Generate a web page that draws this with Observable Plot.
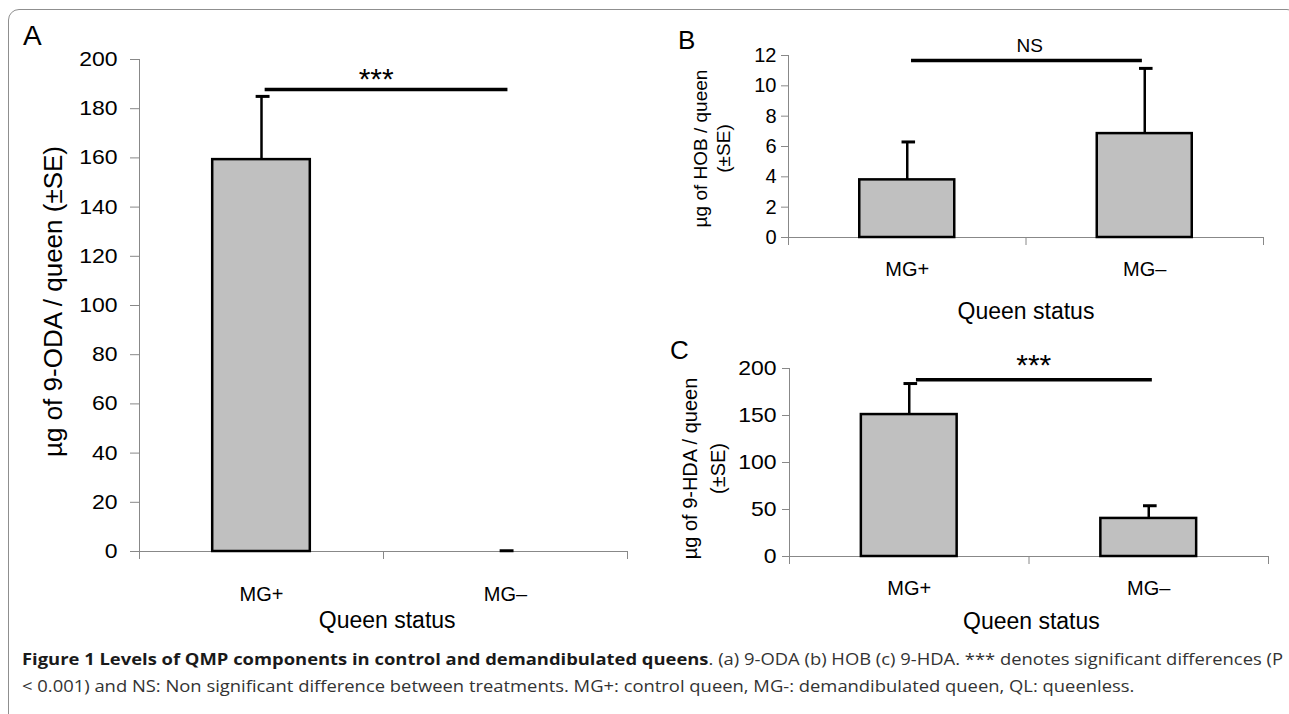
<!DOCTYPE html>
<html>
<head>
<meta charset="utf-8">
<script src="https://cdn.jsdelivr.net/npm/d3@7"></script>
<script src="https://cdn.jsdelivr.net/npm/@observablehq/plot@0.6"></script>
<style>
  html, body { margin: 0; padding: 0; background: #fff; }
  body { width: 1289px; height: 714px; position: relative; overflow: hidden; font-family: "Liberation Sans", Arimo, Arial, sans-serif; }
  #frame { position: absolute; left: 8px; top: 9px; width: 1290px; height: 730px; border: 1px solid #8f8f8f; border-radius: 11px; box-sizing: border-box; }
  .panel { position: absolute; }
  .letter { position: absolute; font-family: "Liberation Sans", Arial, sans-serif; color: #000; line-height: 1; }
  .cap { position: absolute; left: 22px; white-space: nowrap; font-family: "Open Sans", "Noto Sans", sans-serif; font-size: 15.5px; color: #333; transform-origin: 0 50%; line-height: 27px; }
  .cap b { color: #1a1a1a; font-weight: 700; }
  #pA g[aria-label="y-axis tick label"] { font-size: 20px !important; }
  #pB g[aria-label="y-axis tick label"] { font-size: 20px !important; }
  #pC g[aria-label="y-axis tick label"] { font-size: 20px !important; }
</style>
</head>
<body>
<div id="frame"></div>
<div id="pA" class="panel" style="left:0px;top:0px"></div>
<div id="pB" class="panel" style="left:640px;top:0px"></div>
<div id="pC" class="panel" style="left:640px;top:335px"></div>
<div class="letter" style="left:23px;top:22px;font-size:28px">A</div>
<div class="letter" style="left:678px;top:27px;font-size:26px">B</div>
<div class="letter" style="left:670px;top:337px;font-size:26px">C</div>
<div id="cap1" class="cap" style="top:646px"><b>Figure 1 Levels of QMP components in control and demandibulated queens</b>. (a) 9-ODA (b) HOB (c) 9-HDA. *** denotes significant differences (P</div>
<div id="cap2" class="cap" style="top:673px">&lt; 0.001) and NS: Non significant difference between treatments. MG+: control queen, MG-: demandibulated queen, QL: queenless.</div>
<script>
// ---- data ----
const categories = ["MG+", "MG–"];
const odaMean = [159.3, 0];
const odaSE = [25.7, 0.3];
const hobMean = [3.8, 6.85];
const hobSE = [2.5, 4.3];
const hdaMean = [151, 40.5];
const hdaSE = [33, 13.5];
const odaTicks = [0, 20, 40, 60, 80, 100, 120, 140, 160, 180, 200];
const hobTicks = [0, 2, 4, 6, 8, 10, 12];
const hdaTicks = [0, 50, 100, 150, 200];
const sigA = {y: 187.8, x1: 0.515, x2: 1.51, tx: 0.97, label: "***"};
const sigB = {y: 11.67, x1: 0.518, x2: 1.49, tx: 1.016, label: "NS"};
const sigC = {y: 188, x1: 0.53, x2: 1.515, tx: 1.02, label: "***"};
const xAxisTitle = "Queen status";
const yLabelA = "µg of 9-ODA / queen (±SE)";
const yLabelB = "µg of HOB / queen\n(±SE)";
const yLabelC = "µg of 9-HDA / queen\n(±SE)";

function rows(means, ses) {
  return categories.map((c, i) => ({c, i, mean: means[i], se: ses[i]}));
}

// widen horizontal texts (the reference raster is stretched sideways)
function stretch(svg, label, sx) {
  svg.querySelectorAll(`g[aria-label="${label}"] text`).forEach(t => {
    const tr = t.getAttribute("transform") || "";
    const x = +t.getAttribute("x") || 0, y = +t.getAttribute("y") || 0;
    t.setAttribute("transform", `${tr} translate(${x},${y}) scale(${sx},1) translate(${-x},${-y})`);
  });
}

function panel(o) {
  const data = rows(o.means, o.ses);
  const svg = Plot.plot({
    width: o.width, height: o.height,
    marginLeft: o.ml, marginRight: o.mr, marginTop: o.mt, marginBottom: o.mb,
    style: {background: "transparent", fontFamily: "'Liberation Sans', Arimo, Arial, sans-serif", color: "black", overflow: "visible"},
    x: {domain: [0, 2]},
    y: {domain: [0, o.ymax]},
    marks: [
      Plot.ruleX([0], {stroke: "#888", strokeWidth: 1}),
      Plot.ruleY([0], {stroke: "#888", strokeWidth: 1}),
      Plot.axisY({ticks: o.ticks, tickSize: o.tickSize, tickPadding: o.tickPadding, fontSize: o.tickFont, stroke: "#888", fill: "black", label: null}),
      Plot.axisX({ticks: [0, 1, 2], tickSize: 8, tickFormat: () => "", stroke: "#888", label: null}),
      Plot.rectY(data.filter(d => d.mean > 0), {x1: d => d.i + 0.3, x2: d => d.i + 0.7, y1: 0, y2: "mean", fill: "#c0c0c0", stroke: "black", strokeWidth: 2.5}),
      Plot.ruleX(data.filter(d => d.mean > 0), {x: d => d.i + 0.5, y1: "mean", y2: d => d.mean + d.se, stroke: "black", strokeWidth: 2.5}),
      Plot.ruleY(data, {y: d => d.mean + d.se, x1: d => d.i + 0.478, x2: d => d.i + 0.535, stroke: "black", strokeWidth: 3}),
      Plot.ruleY([o.sig], {y: "y", x1: "x1", x2: "x2", stroke: "black", strokeWidth: 3.4}),
      Plot.text([o.sig], {x: "tx", y: "y", text: "label", dy: o.sigDy, fontSize: o.sigFont, ariaLabel: "sig-label"}),
      Plot.text(data, {x: d => d.i + 0.5, y: 0, text: "c", dy: o.catDy, fontSize: o.catFont, ariaLabel: "cat-label"}),
      Plot.text([xAxisTitle], {x: o.titleX, y: 0, text: d => d, dy: o.titleDy, fontSize: o.titleFont, ariaLabel: "x-title"}),
      Plot.text([o.ylabel], {frameAnchor: "left", textAnchor: "middle", rotate: -90, text: d => d, dx: o.ylDx, dy: o.ylDy, fontSize: o.ylFont, lineHeight: o.ylLine, ariaLabel: "y-title"})
    ]
  });
  stretch(svg, "y-axis tick label", o.sxTick);
  stretch(svg, "sig-label", o.sxSig);
  stretch(svg, "cat-label", o.sxCat);
  stretch(svg, "x-title", o.sxTitle);
  return svg;
}

document.getElementById("pA").append(panel({
  width: 660, height: 640, ml: 139, mr: 33, mt: 59, mb: 89, ymax: 200,
  means: odaMean, ses: odaSE, ticks: odaTicks, tickSize: 9, tickPadding: 13, tickFont: 20, sxTick: 1.15,
  sig: sigA, sigDy: -10, sigFont: 30, sxSig: 1.2,
  catDy: 43, catFont: 20, sxCat: 1.25, titleX: 1.015, titleDy: 69, titleFont: 23, sxTitle: 1.2,
  ylabel: yLabelA, ylDx: -86, ylDy: -4, ylFont: 26, ylLine: 1
}));
document.getElementById("pB").append(panel({
  width: 649, height: 335, ml: 148, mr: 26, mt: 55, mb: 98, ymax: 12,
  means: hobMean, ses: hobSE, ticks: hobTicks, tickSize: 7, tickPadding: 5, tickFont: 20, sxTick: 1.0,
  sig: sigB, sigDy: -15, sigFont: 19, sxSig: 1.0,
  catDy: 32, catFont: 20, sxCat: 1.15, titleX: 1.0, titleDy: 74, titleFont: 23, sxTitle: 1.2,
  ylabel: yLabelB, ylDx: -77, ylDy: 2, ylFont: 19, ylLine: 1.2
}));
document.getElementById("pC").append(panel({
  width: 649, height: 305, ml: 149, mr: 21, mt: 33, mb: 84, ymax: 200,
  means: hdaMean, ses: hdaSE, ticks: hdaTicks, tickSize: 7, tickPadding: 6, tickFont: 20, sxTick: 1.15,
  sig: sigC, sigDy: -14, sigFont: 30, sxSig: 1.2,
  catDy: 32, catFont: 20, sxCat: 1.15, titleX: 1.01, titleDy: 65, titleFont: 23, sxTitle: 1.2,
  ylabel: yLabelC, ylDx: -87, ylDy: 6, ylFont: 20, ylLine: 1.4
}));

// fit caption to its width in the reference
const c1 = document.getElementById("cap1"), c2 = document.getElementById("cap2");
const w = c1.getBoundingClientRect().width;
const s = 1261 / w;
c1.style.transform = `scaleX(${s})`;
c2.style.transform = `scaleX(${s})`;
</script>
</body>
</html>
